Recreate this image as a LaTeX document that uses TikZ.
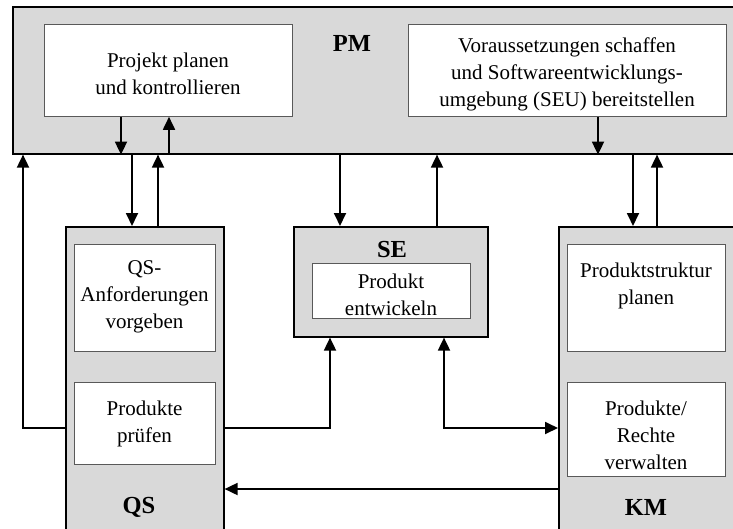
\documentclass[tikz,border=0pt]{standalone}
\usepackage{fontspec}
\setmainfont{Liberation Serif}
\usetikzlibrary{arrows.meta}
\definecolor{boxgray}{HTML}{D9D9D9}
\tikzset{
  area/.style={draw=black, line width=1.6pt, fill=boxgray, anchor=north west, inner sep=0pt},
  task/.style={draw=black!65, line width=0.8pt, fill=white, anchor=north west, inner sep=0pt},
  txt/.style={align=center, font=\fontsize{21}{27}\selectfont, inner sep=0pt},
  lbl/.style={font=\fontsize{24.5}{28}\selectfont\bfseries, inner sep=0pt},
  flow/.style={line width=1.8pt, -{Triangle[length=13pt,width=12pt]}},
  both/.style={line width=1.8pt, {Triangle[length=13pt,width=12pt]}-{Triangle[length=13pt,width=12pt]}},
}
\begin{document}
\begin{tikzpicture}[x=1pt,y=-1pt]
\useasboundingbox (0,0) rectangle (733,528);
\clip (0,0) rectangle (733,528);

% project management area
\node[area, minimum width=740pt, minimum height=147pt] (pm) at (12,6) {};
\node[task, minimum width=248pt, minimum height=92pt] (plan) at (44,24) {};
\node[txt] (plantxt) at (168,74) {Projekt planen\\und kontrollieren};
\node[task, minimum width=318pt, minimum height=92pt] (seu) at (408,24) {};
\node[txt] (seutxt) at (567,74.5) {Voraussetzungen schaffen\\und Softwareentwicklungs-\\umgebung (SEU) bereitstellen};
\node[lbl] (pmlbl) at (352,43) {PM};

% quality assurance area
\node[area, minimum width=158pt, minimum height=320pt] (qs) at (65,226) {};
\node[task, minimum width=141pt, minimum height=107pt] (qs1) at (74,244) {};
\node[txt] (qs1txt) at (144.5,297) {QS-\\Anforderungen\\vorgeben};
\node[task, minimum width=141pt, minimum height=82pt] (qs2) at (74,382) {};
\node[txt] (qs2txt) at (144.5,424) {Produkte\\prüfen};
\node[lbl] (qslbl) at (139,507) {QS};

% system development area
\node[area, minimum width=194pt, minimum height=110pt] (se) at (293,226) {};
\node[lbl] (selbl) at (392,250) {SE};
\node[task, minimum width=158pt, minimum height=55pt] (se1) at (312,263) {};
\node[txt] (se1txt) at (391,295) {Produkt\\entwickeln};

% configuration management area
\node[area, minimum width=200pt, minimum height=320pt] (km) at (558,226) {};
\node[task, minimum width=158pt, minimum height=107pt] (km1) at (567,244) {};
\node[txt] (km1txt) at (646,286) {Produktstruktur\\planen};
\node[task, minimum width=158pt, minimum height=94pt] (km2) at (567,382) {};
\node[txt] (km2txt) at (646,435) {Produkte/\\Rechte\\verwalten};
\node[lbl] (kmlbl) at (646,507) {KM};

% connector columns and rows
\coordinate (cA) at (121,0);
\coordinate (cB) at (169,0);
\coordinate (cC) at (132,0);
\coordinate (cD) at (158,0);
\coordinate (cE) at (23,0);
\coordinate (cF) at (340,0);
\coordinate (cG) at (437,0);
\coordinate (cH) at (598,0);
\coordinate (cI) at (633,0);
\coordinate (cJ) at (657,0);
\coordinate (cK) at (330,0);
\coordinate (cL) at (444,0);
\coordinate (rowA) at (0,428);
\coordinate (rowB) at (0,489);

% connectors
\draw[flow] (plan.south -| cA) -- (pm.south -| cA);
\draw[flow] (pm.south -| cB) -- (plan.south -| cB);
\draw[flow] (pm.south -| cC) -- (qs.north -| cC);
\draw[flow] (qs.north -| cD) -- (pm.south -| cD);
\draw[flow] (qs.west |- rowA) -| (pm.south -| cE);
\draw[flow] (pm.south -| cF) -- (se.north -| cF);
\draw[flow] (se.north -| cG) -- (pm.south -| cG);
\draw[flow] (seu.south -| cH) -- (pm.south -| cH);
\draw[flow] (pm.south -| cI) -- (km.north -| cI);
\draw[flow] (km.north -| cJ) -- (pm.south -| cJ);
\draw[flow] (qs.east |- rowA) -| (se.south -| cK);
\draw[both] (se.south -| cL) |- (km.west |- rowA);
\draw[flow] (km.west |- rowB) -- (qs.east |- rowB);
\end{tikzpicture}
\end{document}
